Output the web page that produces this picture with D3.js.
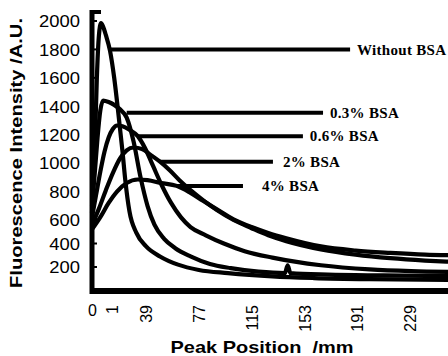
<!DOCTYPE html>
<html>
<head>
<meta charset="utf-8">
<script src="https://cdn.jsdelivr.net/npm/d3@7"></script>
<style>
  body { margin: 0; background: #fff; }
  svg { display: block; }
</style>
</head>
<body>
<div id="viz"></div>
<script>
const width = 448;
const height = 356;

// peak position (mm) and intensity (A.U.)
const seriesNames = ['Without BSA', '0.3% BSA', '0.6% BSA', '2% BSA', '4% BSA'];

const posWithout = [0, 2, 3.5, 5, 6.5, 8, 10, 13, 16, 19, 22, 24, 27, 32, 39, 49, 62, 77, 98, 130, 160, 200, 258];
const valWithout = [650, 1100, 1600, 1900, 1985, 1960, 1900, 1790, 1600, 1350, 1080, 880, 660, 490, 375, 290, 220, 175, 148, 120, 106, 96, 90];

const pos03 = [0, 2, 4, 6, 8, 12, 16, 20, 25, 30, 35, 40, 45, 52, 60, 71, 85, 100, 120, 139, 141, 143, 170, 210, 258];
const val03 = [700, 930, 1180, 1370, 1440, 1430, 1410, 1380, 1320, 1150, 900, 700, 560, 440, 360, 290, 225, 190, 160, 148, 215, 148, 135, 128, 122];

const pos06 = [0, 3, 6, 9, 12, 15, 18, 22, 27, 33, 38, 44, 50, 57, 64, 71, 82, 95, 110, 130, 165, 200, 230, 258];
const val06 = [620, 780, 940, 1080, 1180, 1240, 1265, 1260, 1235, 1190, 1110, 980, 850, 720, 620, 540, 470, 400, 335, 280, 215, 180, 165, 158];

const pos2 = [0, 5, 10, 15, 20, 25, 30, 36, 42, 49, 56, 63, 71, 80, 90, 102, 115, 127, 140, 165, 190, 215, 240, 258];
const val2 = [560, 680, 810, 930, 1030, 1090, 1110, 1100, 1060, 1010, 950, 880, 810, 740, 670, 600, 530, 470, 420, 350, 305, 275, 255, 245];

const pos4 = [0, 6, 12, 18, 25, 33, 40, 50, 61, 71, 80, 90, 102, 115, 127, 140, 165, 190, 215, 240, 258];
const val4 = [520, 620, 720, 800, 860, 885, 880, 860, 840, 790, 735, 675, 605, 540, 490, 445, 375, 340, 320, 305, 300];

// label leaders: level (A.U.), start / end / text position (mm)
const leaderLevel = [1800, 1355, 1190, 1010, 840];
const leaderFrom = [13, 25, 33, 49, 61];
const leaderTo = [186, 166.5, 152, 130.4, 108.8];
const labelAt = [191, 171.5, 157, 137.6, 122.5];

const yTicks = [200, 400, 600, 800, 1000, 1200, 1400, 1600, 1800, 2000];
const xTickVals = [0, 14, 39, 77, 115, 153, 191, 229];
const xTickLabels = ['0', '1', '39', '77', '115', '153', '191', '229'];

const series = [
  {pos: posWithout, val: valWithout},
  {pos: pos03, val: val03},
  {pos: pos06, val: val06},
  {pos: pos2, val: val2},
  {pos: pos4, val: val4}
].map((s, i) => ({
  name: seriesNames[i],
  points: s.pos.map((p, j) => ({x: p, y: s.val[j]}))
}));

const x = d3.scaleLinear()
  .domain([0, 258])
  .range([92, 450]);

// the scanned axis is slightly uneven, so the scale is piecewise
const y = d3.scaleLinear()
  .domain([0, 200, 600, 2000])
  .range([290.5, 267, 220, 21]);

const svg = d3.select('#viz')
  .append('svg')
    .attr('width', width)
    .attr('height', height)
    .attr('viewBox', [0, 0, width, height]);

// y axis labels
const yAxis = svg.append('g')
  .attr('transform', 'translate(92,0)')
  .call(d3.axisLeft(y).tickValues(yTicks).tickFormat(d3.format('d')).tickSize(0).tickPadding(12));
yAxis.select('.domain').remove();
yAxis.selectAll('text')
  .attr('font-family', 'Liberation Sans, Arial, sans-serif')
  .attr('font-size', 16)
  .attr('fill', '#000')
  .attr('dy', '0.36em')
  .each(function() {
    const w = this.getComputedTextLength();
    d3.select(this).attr('textLength', w * 1.15).attr('lengthAdjust', 'spacingAndGlyphs');
  });

// small inner ticks
svg.append('g')
  .selectAll('line')
  .data(yTicks)
  .join('line')
    .attr('x1', 92).attr('x2', 97)
    .attr('y1', d => y(d)).attr('y2', d => y(d))
    .attr('stroke', '#000')
    .attr('stroke-width', 2);

// x axis labels
const xAxis = svg.append('g')
  .attr('transform', 'translate(0,291)')
  .call(d3.axisBottom(x).tickValues(xTickVals).tickFormat((d, i) => xTickLabels[i]).tickSize(0));
xAxis.select('.domain').remove();
xAxis.selectAll('text')
  .attr('font-family', 'Liberation Sans, Arial, sans-serif')
  .attr('font-size', 16)
  .attr('fill', '#000')
  .each(function(d, i) {
    const t = d3.select(this);
    if (i === 0) {
      t.attr('y', 14).attr('dy', '0.71em').attr('text-anchor', 'middle');
    } else {
      t.attr('transform', 'rotate(-90)')
        .attr('text-anchor', 'end')
        .attr('x', -14)
        .attr('y', 0)
        .attr('dy', '0.36em');
    }
  });

// curves
const line = d3.line()
  .x(d => x(d.x))
  .y(d => y(d.y))
  .curve(d3.curveMonotoneX);

svg.append('g')
  .selectAll('path')
  .data(series)
  .join('path')
    .attr('d', d => line(d.points))
    .attr('fill', 'none')
    .attr('stroke', '#000')
    .attr('stroke-width', 4.2)
    .attr('stroke-linejoin', 'round');

// leader lines + labels
svg.append('g')
  .selectAll('line')
  .data(seriesNames)
  .join('line')
    .attr('x1', (d, i) => x(leaderFrom[i]))
    .attr('x2', (d, i) => x(leaderTo[i]))
    .attr('y1', (d, i) => y(leaderLevel[i]))
    .attr('y2', (d, i) => y(leaderLevel[i]))
    .attr('stroke', '#000')
    .attr('stroke-width', 4);

svg.append('g')
  .selectAll('text')
  .data(seriesNames)
  .join('text')
    .attr('x', (d, i) => x(labelAt[i]))
    .attr('y', (d, i) => y(leaderLevel[i]))
    .attr('dy', '0.35em')
    .attr('font-family', 'Liberation Serif, Times New Roman, serif')
    .attr('font-weight', 'bold')
    .attr('font-size', 15)
    .attr('letter-spacing', 0.3)
    .text(d => d);

// frame: thick left and bottom axes
svg.append('line')
  .attr('x1', 92).attr('x2', 92)
  .attr('y1', 10).attr('y2', 294)
  .attr('stroke', '#000').attr('stroke-width', 5);
svg.append('line')
  .attr('x1', 90).attr('x2', 101)
  .attr('y1', 12).attr('y2', 12)
  .attr('stroke', '#000').attr('stroke-width', 4);
svg.append('line')
  .attr('x1', 90).attr('x2', width)
  .attr('y1', 291).attr('y2', 291)
  .attr('stroke', '#000').attr('stroke-width', 6);

// axis titles
svg.append('text')
  .attr('transform', 'translate(22,153) rotate(-90)')
  .attr('text-anchor', 'middle')
  .attr('font-family', 'Liberation Sans, Arial, sans-serif')
  .attr('font-weight', 'bold')
  .attr('font-size', 17)
  .attr('textLength', 270)
  .attr('lengthAdjust', 'spacingAndGlyphs')
  .text('Fluorescence Intensity /A.U.');

svg.append('text')
  .attr('x', 262)
  .attr('y', 353)
  .attr('text-anchor', 'middle')
  .attr('font-family', 'Liberation Sans, Arial, sans-serif')
  .attr('font-weight', 'bold')
  .attr('font-size', 17)
  .attr('textLength', 183)
  .attr('lengthAdjust', 'spacingAndGlyphs')
  .style('white-space', 'pre')
  .text('Peak Position  /mm');
</script>
</body>
</html>
